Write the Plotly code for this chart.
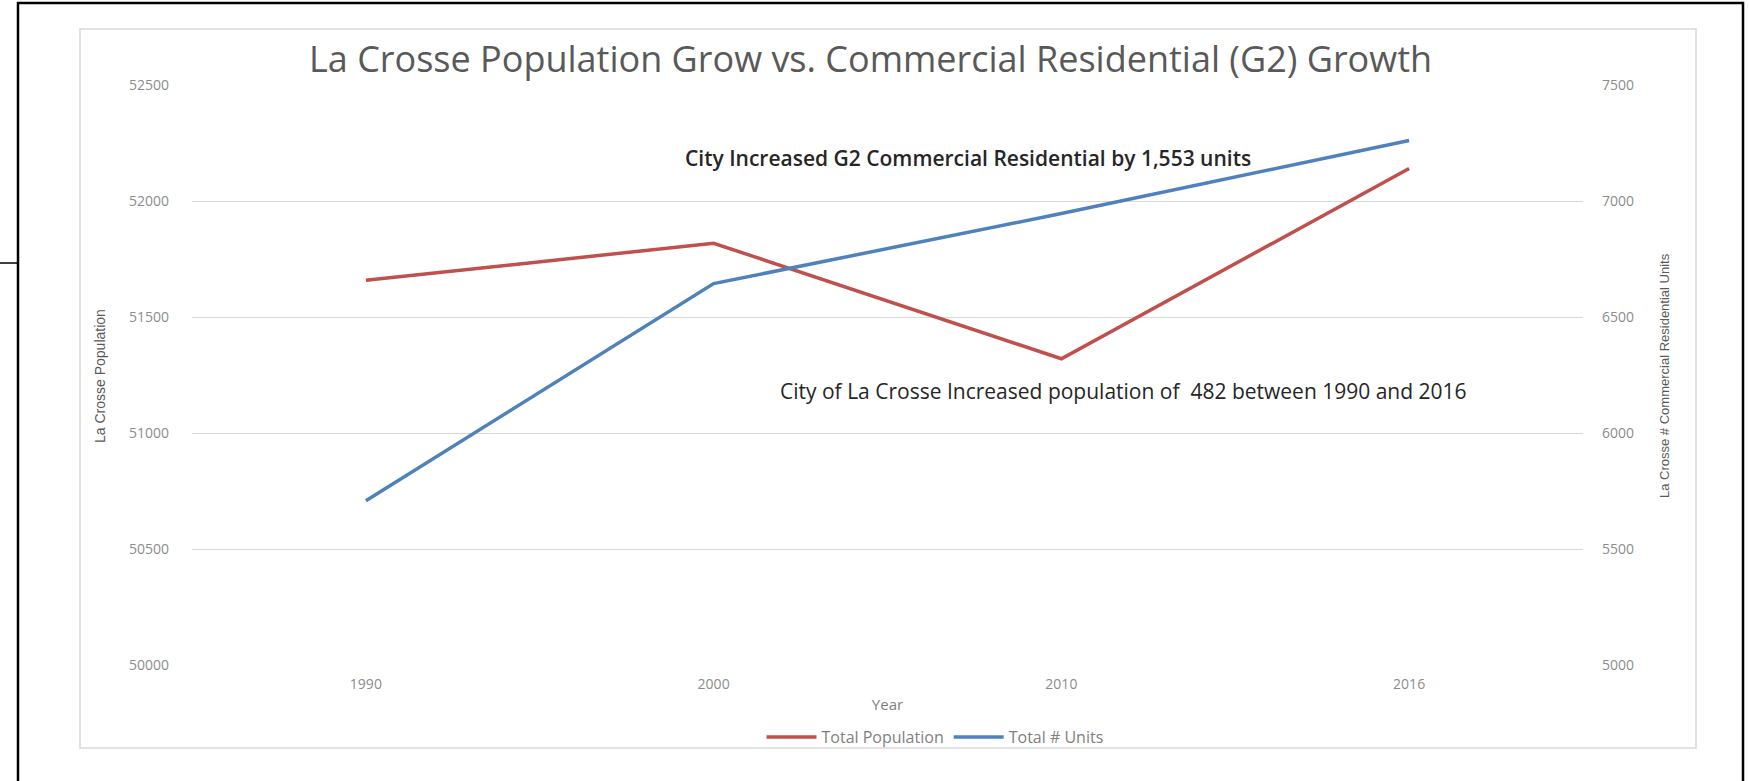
import plotly.graph_objects as go

# ---- data ----
years = ["1990", "2000", "2010", "2016"]
total_population = [51658, 51818, 51320, 52140]
total_units = [5708, 6644, 6946, 7261]

title_text = "La Crosse Population Grow vs. Commercial Residential (G2) Growth"
left_title = "La Crosse Population"
right_title = "La Crosse # Commercial Residential Units"
x_title = "Year"
note_units = "City Increased G2 Commercial Residential by 1,553 units"
note_pop = "City of La Crosse Increased population of  482 between 1990 and 2016"

left_ticks = [50000, 50500, 51000, 51500, 52000, 52500]
right_ticks = [5000, 5500, 6000, 6500, 7000, 7500]

# ---- geometry (pixels) ----
W, H = 1749, 781
PL, PR, PT, PB = 192, 1583, 85, 665  # plot area


def px(x):
    return (x - PL) / (PR - PL)


def py(y):
    return (PB - y) / (PB - PT)


RED = "#C0504D"
BLUE = "#4F81BD"
GRID = "#D9D9D9"
TICK = "#8C8C8C"

fig = go.Figure()
fig.add_trace(go.Scatter(x=years, y=total_population, name="Total Population",
                         mode="lines", line=dict(color=RED, width=3.5)))
fig.add_trace(go.Scatter(x=years, y=total_units, name="Total # Units", yaxis="y2",
                         mode="lines", line=dict(color=BLUE, width=3.5)))

fig.update_layout(
    width=W, height=H, autosize=False,
    margin=dict(l=PL, r=W - PR, t=PT, b=H - PB),
    paper_bgcolor="white", plot_bgcolor="white",
    font=dict(family="Open Sans", color=TICK, size=14),
    showlegend=True,
    legend=dict(orientation="h", x=px(935), xanchor="center", y=py(737), yanchor="middle",
                font=dict(family="Open Sans", size=16, color="#7F7F7F"),
                bgcolor="rgba(0,0,0,0)", itemwidth=50, traceorder="normal"),
    xaxis=dict(type="category", range=[-0.5, len(years) - 0.5],
               showgrid=False, zeroline=False, showline=False,
               ticks="", tickfont=dict(family="Open Sans", size=14, color=TICK),
               ticklabelstandoff=9,
               title=dict(text=x_title, font=dict(family="Open Sans", size=15, color="#7F7F7F"),
                          standoff=7)),
    yaxis=dict(range=[50000, 52500], tickvals=left_ticks, ticktext=[str(v) for v in left_ticks],
               showgrid=True, gridcolor=GRID, gridwidth=1, zeroline=False, showline=False,
               ticks="", tickfont=dict(family="Open Sans", size=14, color=TICK),
               ticklabelstandoff=22),
    yaxis2=dict(range=[5000, 7500], tickvals=right_ticks, ticktext=[str(v) for v in right_ticks],
                overlaying="y", side="right", showgrid=False, zeroline=False, showline=False,
                ticks="", tickfont=dict(family="Open Sans", size=14, color=TICK),
                ticklabelstandoff=18),
)

annotations = [
    dict(text=title_text, x=px(870), y=py(58), xref="paper", yref="paper",
         showarrow=False, xanchor="center", yanchor="middle",
         font=dict(family="Open Sans", size=36, color="#595959")),
    dict(text=left_title, x=px(100), y=py(376), xref="paper", yref="paper",
         showarrow=False, textangle=-90, xanchor="center", yanchor="middle",
         font=dict(family="Liberation Sans Narrow, Liberation Sans", size=14, color="#595959")),
    dict(text=right_title, x=px(1665), y=py(376), xref="paper", yref="paper",
         showarrow=False, textangle=-90, xanchor="center", yanchor="middle",
         font=dict(family="Liberation Sans Narrow, Liberation Sans", size=13, color="#595959")),
    dict(text=note_units, x=px(968), y=py(158), xref="paper", yref="paper",
         showarrow=False, xanchor="center", yanchor="middle",
         font=dict(family="Open Sans", size=21, weight=600, color="#262626")),
    dict(text=note_pop, x=px(1123), y=py(391), xref="paper", yref="paper",
         showarrow=False, xanchor="center", yanchor="middle",
         font=dict(family="Open Sans", size=21, color="#262626")),
]
fig.update_layout(annotations=annotations)

shapes = [
    # chart area border (light gray)
    dict(type="rect", xref="paper", yref="paper", x0=px(80), x1=px(1696), y0=py(748), y1=py(29),
         line=dict(color=GRID, width=1.5), layer="below"),
    # outer black frame
    dict(type="rect", xref="paper", yref="paper", x0=px(18), x1=px(1743), y0=py(790), y1=py(3),
         line=dict(color="black", width=2.5), layer="above"),
    # small stub to the left of the frame
    dict(type="line", xref="paper", yref="paper", x0=px(0), x1=px(18), y0=py(263), y1=py(263),
         line=dict(color="black", width=1.5)),
]
fig.update_layout(shapes=shapes)

fig.write_html("out.html", config={"displayModeBar": False},
               post_script="document.body.style.margin='0';document.body.style.overflow='hidden';")
